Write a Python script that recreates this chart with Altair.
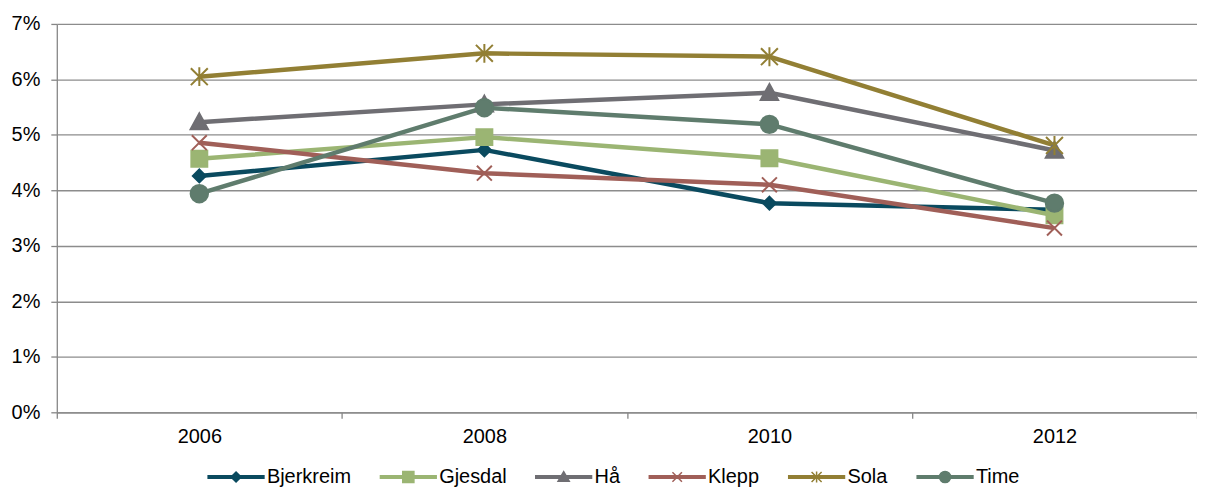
import altair as alt
import pandas as pd

years = ["2006", "2008", "2010", "2012"]
series = ["Bjerkreim", "Gjesdal", "Hå", "Klepp", "Sola", "Time"]
bjerkreim = [0.0426, 0.0473, 0.0377, 0.0365]
gjesdal = [0.0457, 0.0496, 0.0458, 0.0355]
haa = [0.0523, 0.0555, 0.0576, 0.0472]
klepp = [0.0486, 0.0431, 0.0410, 0.0332]
sola = [0.0605, 0.0647, 0.0641, 0.0481]
time_ = [0.0394, 0.0549, 0.0519, 0.0377]
y_ticks = [0.0, 0.01, 0.02, 0.03, 0.04, 0.05, 0.06, 0.07]
colors = ["#0A4A5F", "#9BB573", "#6F6E73", "#A05F58", "#927F34", "#5F7C6D"]

values = [bjerkreim, gjesdal, haa, klepp, sola, time_]
rows = []
for s, vals in zip(series, values):
    for yr, v in zip(years, vals):
        rows.append({"series": s, "year": yr, "value": v})
df = pd.DataFrame(rows)

# marker shapes in the plot (unit = sqrt(size)/2 px)
marker_paths = [
    "M0,-1.3L1.3,0L0,1.3L-1.3,0Z",
    "M-1.6,-1.6L1.6,-1.6L1.6,1.6L-1.6,1.6Z",
    "M0,-1.75L1.75,1.45L-1.75,1.45Z",
    "M-1.5,-1.5L1.5,1.5M-1.5,1.5L1.5,-1.5",
    "M-1.7,-1.7L1.7,1.7M-1.7,1.7L1.7,-1.7M0,-1.9L0,1.9",
    "M-1.75,0A1.75,1.75 0 1,1 1.75,0A1.75,1.75 0 1,1 -1.75,0Z",
]

bar = "M-1,-0.045L1,-0.045L1,0.045L-1,0.045Z"
legend_paths = [
    bar + "M0,-0.18L0.18,0L0,0.18L-0.18,0Z",
    bar + "M-0.2,-0.2L0.2,-0.2L0.2,0.2L-0.2,0.2Z",
    bar + "M0,-0.19L0.2,0.15L-0.2,0.15Z",
    bar + "M-0.17,-0.17L0.17,0.17M-0.17,0.17L0.17,-0.17",
    bar + "M-0.18,-0.18L0.18,0.18M-0.18,0.18L0.18,-0.18M0,-0.2L0,0.2",
    bar + "M-0.2,0A0.2,0.2 0 1,1 0.2,0A0.2,0.2 0 1,1 -0.2,0Z",
]

FONT = "Liberation Sans"

x_enc = alt.X(
    "year:O",
    scale=alt.Scale(type="band", domain=years, paddingInner=0, paddingOuter=0),
    axis=alt.Axis(title=None, labelAngle=0, tickBand="extent", grid=False,
                  tickSize=6, labelPadding=8),
)
y_enc = alt.Y(
    "value:Q",
    scale=alt.Scale(domain=[0, 0.07], nice=False),
    axis=alt.Axis(title=None, values=y_ticks, format=".0%", grid=True,
                  tickSize=6, labelPadding=11),
)

base = alt.Chart(df)

lines = base.mark_line(strokeWidth=4.5, strokeJoin="round").encode(
    x=x_enc,
    y=y_enc,
    color=alt.Color("series:N", scale=alt.Scale(domain=series, range=colors), legend=None),
    detail="series:N",
)

points = base.mark_point(filled=True, size=100, strokeWidth=2, opacity=1).encode(
    x=x_enc,
    y=y_enc,
    fill=alt.Fill("series:N", scale=alt.Scale(domain=series, range=colors), legend=None),
    stroke=alt.Stroke("series:N", scale=alt.Scale(domain=series, range=colors), legend=None),
    shape=alt.Shape("series:N", scale=alt.Scale(domain=series, range=marker_paths), legend=None),
)

leg = alt.Legend(
    title=None, orient="none", legendX=151, legendY=426, direction="horizontal",
    columns=6, symbolSize=3136, symbolStrokeWidth=1.5, labelFont=FONT,
    labelFontSize=20, labelColor="#000000", labelOffset=2, columnPadding=26,
    padding=0,
)

legend_layer = base.mark_point(filled=True, strokeWidth=1.5, opacity=1).encode(
    fill=alt.Fill("series:N", scale=alt.Scale(domain=series, range=colors), legend=leg),
    stroke=alt.Stroke("series:N", scale=alt.Scale(domain=series, range=colors), legend=leg),
    shape=alt.Shape("series:N", scale=alt.Scale(domain=series, range=legend_paths), legend=leg),
).transform_filter("datum.value < -1")

chart = (
    alt.layer(lines, points, legend_layer)
    .resolve_scale(fill="independent", stroke="independent", shape="independent")
    .properties(
        width=1145, height=390,
        autosize=alt.AutoSizeParams(type="none"),
        padding={"left": 49, "top": 15, "right": 0, "bottom": 74},
    )
    .configure_view(stroke=None)
    .configure_axis(
        labelFont=FONT, labelFontSize=20, labelColor="#000000",
        domainColor="#868686", tickColor="#868686", gridColor="#8C8C8C",
        domainWidth=1.3, tickWidth=1.3, gridWidth=1.3,
    )
)

chart.save("out.html", embed_options={"renderer": "svg", "actions": False})
